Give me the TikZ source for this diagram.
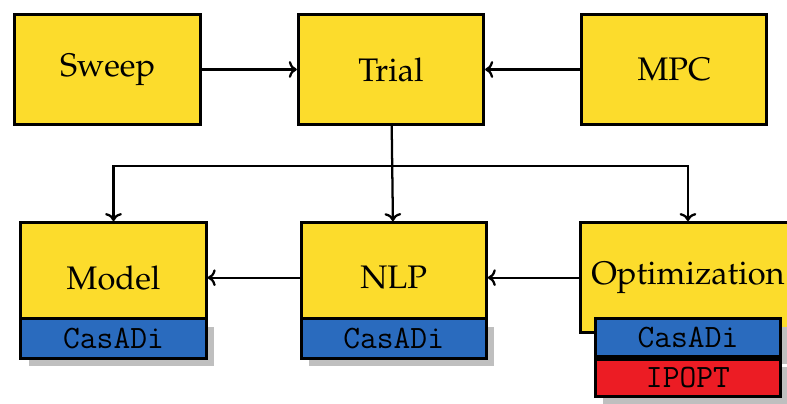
\documentclass[tikz,border=0pt]{standalone}
\usepackage[T1]{fontenc}
\usepackage{mathpazo}
\usepackage{tikz}
\usetikzlibrary{arrows.meta,positioning,shadows}
\definecolor{blockyellow}{HTML}{FCDC2C}
\definecolor{casadiblue}{HTML}{2A6BBE}
\definecolor{ipoptred}{HTML}{EC1C24}
\newcommand{\tooltt}{\fontencoding{TU}\fontfamily{lmtt}\selectfont}

\begin{document}
\begin{tikzpicture}[
  block/.style={rectangle, draw, line width=1.6pt, fill=blockyellow,
    minimum width=3.45cm, minimum height=2.05cm, inner xsep=0.2cm,
    font=\LARGE, text centered},
  tool/.style={rectangle, draw, line width=1.6pt, minimum width=3.45cm,
    minimum height=0.74cm, inner sep=0pt, font=\LARGE\tooltt,
    drop shadow={shadow xshift=0.15cm, shadow yshift=-0.15cm,
      fill=black!25, opacity=1}},
  link/.style={->, line width=1.2pt},
]
  \useasboundingbox (-7.28,1.294) rectangle (7.374,-6.21);

  % top row
  \node[block] (trial) at (0,0) {Trial};
  \node[block, left=1.77cm of trial] (sweep) {Sweep};
  \node[block, right=1.77cm of trial] (mpc) {MPC};

  % bottom row
  \node[block, below=1.77cm of trial, xshift=0.05cm] (nlp) {NLP};
  \node[block, left=1.71cm of nlp] (model) {Model};
  \node[block, right=1.7cm of nlp] (opt) {Optimization};

  % tools under the blocks
  \node[tool, fill=casadiblue, anchor=north] (modelcas) at ([yshift=0.32cm]model.south) {CasADi};
  \node[tool, fill=casadiblue, anchor=north] (nlpcas) at ([yshift=0.32cm]nlp.south) {CasADi};
  \node[tool, fill=casadiblue, minimum height=0.7cm, anchor=north] (optcas) at ([yshift=0.32cm]opt.south) {CasADi};
  \node[tool, fill=ipoptred, minimum height=0.7cm, below=0pt of optcas] (optipopt) {IPOPT};

  \coordinate (split) at ([yshift=-0.75cm]trial.south);

  \draw[link] (sweep) -- (trial);
  \draw[link] (mpc) -- (trial);
  \draw[link] (trial) -- (nlp);
  \draw[link] (split) -| (model.north);
  \draw[link] (split) -| (opt.north);
  \draw[link] (nlp) -- (model);
  \draw[link] (opt) -- (nlp);
\end{tikzpicture}
\end{document}
